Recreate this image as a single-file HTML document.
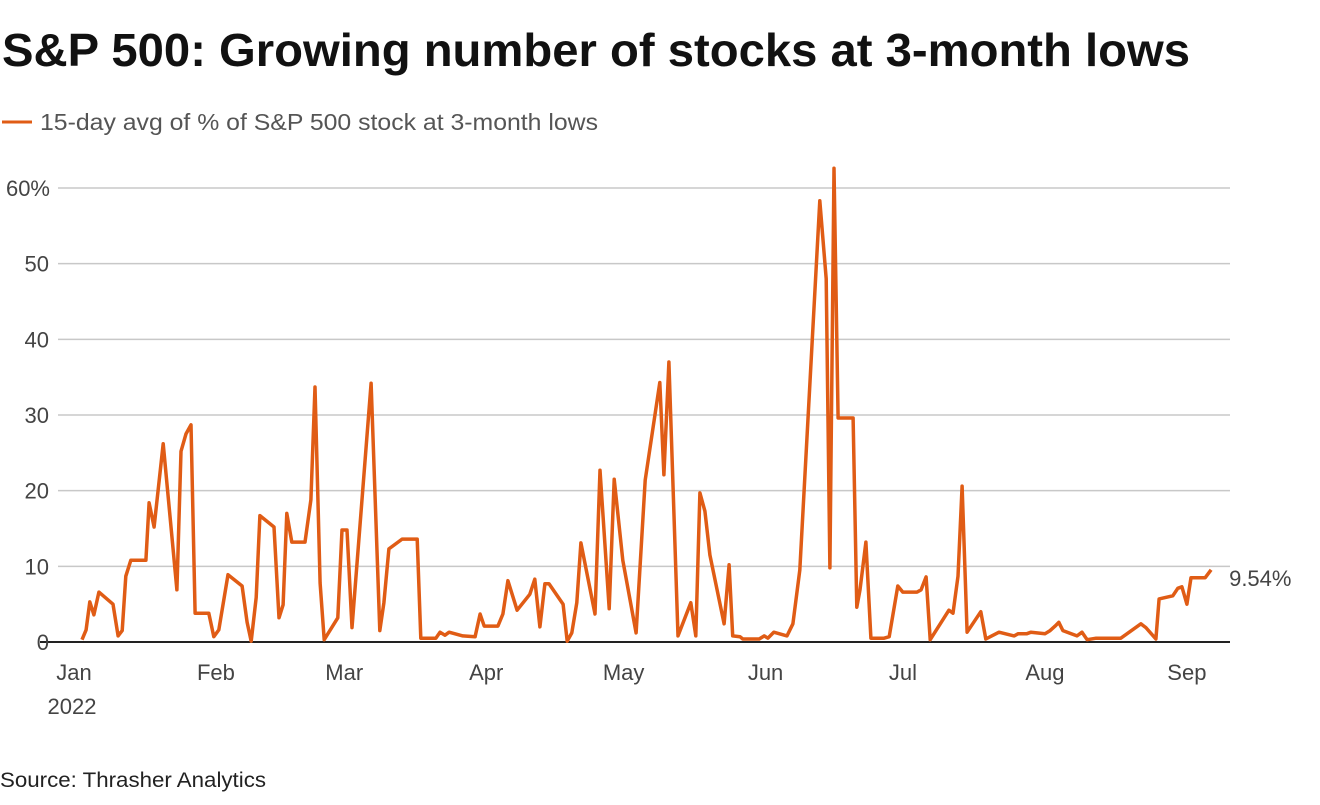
<!DOCTYPE html>
<html><head><meta charset="utf-8"><style>
body{margin:0;background:#fff;font-family:"Liberation Sans",sans-serif;}
svg text{font-family:"Liberation Sans",sans-serif;}
</style></head><body>
<svg width="1320" height="800">
<text x="2" y="66" font-size="46" font-weight="bold" fill="#111" textLength="1188" lengthAdjust="spacingAndGlyphs">S&amp;P 500: Growing number of stocks at 3-month lows</text>
<line x1="2" y1="122" x2="32" y2="122" stroke="#e05c15" stroke-width="3"/>
<text x="40" y="130" font-size="23" fill="#555" textLength="558" lengthAdjust="spacingAndGlyphs">15-day avg of % of S&amp;P 500 stock at 3-month lows</text>
<g id="grid"></g><g id="ylab"></g><g id="xlab"></g>
<path id="line" fill="none" stroke="#e05c15" stroke-width="3.5" stroke-linejoin="round"/>
<text id="endlab" font-size="22" fill="#444"></text>
<text x="0" y="787" font-size="21" fill="#222" textLength="266" lengthAdjust="spacingAndGlyphs">Source: Thrasher Analytics</text>
</svg>
<script>
const days=[2.2,3.1,3.9,4.8,5.9,9.0,10.1,11.0,11.8,12.9,16.2,16.9,18.0,20.0,23.0,23.9,25.0,26.1,27.0,30.0,31.1,32.2,34.2,37.3,38.4,39.3,40.4,41.2,44.3,45.4,46.3,47.1,48.2,51.1,52.4,53.3,54.4,55.3,58.3,59.2,60.3,61.4,65.6,67.5,68.4,69.5,72.4,75.7,76.5,79.8,80.7,81.8,82.7,85.7,88.4,89.5,90.4,93.4,94.5,95.6,97.6,100.4,101.5,102.6,103.7,104.6,107.7,108.6,109.6,110.7,111.6,114.7,115.8,117.8,118.9,120.8,123.7,125.7,128.9,129.8,130.9,132.9,135.7,136.8,137.7,138.8,139.9,143.0,144.1,144.9,146.5,147.1,150.7,151.8,152.6,153.9,156.8,158.1,159.6,164.0,165.4,166.2,167.1,168.0,171.3,172.1,172.8,174.1,175.2,178.1,179.2,181.1,182.2,185.3,186.2,187.3,188.2,192.3,193.2,194.3,195.2,196.3,199.3,200.4,203.3,206.6,207.5,209.4,210.3,213.4,214.5,215.6,216.4,217.3,220.4,221.5,222.6,224.6,230.0,234.4,235.5,237.7,238.4,241.4,242.5,243.4,244.5,245.4,248.5,249.8];
const values=[0.3,1.6,5.3,3.6,6.6,5.0,0.8,1.5,8.7,10.8,10.8,18.4,15.2,26.2,6.9,25.2,27.5,28.7,3.8,3.8,0.7,1.6,8.9,7.4,2.6,0.1,5.9,16.7,15.2,3.2,4.9,17.0,13.2,13.2,18.8,33.7,7.8,0.3,3.2,14.8,14.8,1.9,34.2,1.5,5.2,12.3,13.6,13.6,0.5,0.5,1.3,0.9,1.3,0.8,0.7,3.7,2.1,2.1,3.7,8.1,4.2,6.3,8.3,2.0,7.7,7.7,5.0,0.1,1.2,5.2,13.1,3.7,22.7,4.4,21.5,10.8,1.2,21.4,34.3,22.1,37.0,0.8,5.2,0.8,19.7,17.3,11.5,2.4,10.2,0.8,0.7,0.4,0.4,0.8,0.5,1.3,0.8,2.4,9.5,58.3,48.0,9.8,62.6,29.6,29.6,4.6,6.9,13.2,0.5,0.5,0.7,7.4,6.6,6.6,6.9,8.6,0.3,4.2,3.8,8.7,20.6,1.3,4.0,0.4,1.3,0.8,1.1,1.1,1.3,1.1,1.5,2.1,2.6,1.5,0.8,1.3,0.3,0.5,0.5,2.4,1.9,0.4,5.7,6.1,7.1,7.3,5.0,8.5,8.5,9.54];
const yTicks=[0,10,20,30,40,50,60];
const yTickLabels=["0","10","20","30","40","50","60%"];
const monthDays=[0,31,59,90,120,151,181,212,243];
const monthLabels=["Jan","Feb","Mar","Apr","May","Jun","Jul","Aug","Sep"];
const xs=d=>72+d*4.56, ys=v=>642-v*7.567;
const NS="http://www.w3.org/2000/svg";
const grid=document.getElementById('grid'),yl=document.getElementById('ylab'),xl=document.getElementById('xlab');
yTicks.forEach((t,i)=>{
  const l=document.createElementNS(NS,'line');
  l.setAttribute('x1',t===0?40:58);l.setAttribute('x2',1230);l.setAttribute('y1',ys(t));l.setAttribute('y2',ys(t));
  l.setAttribute('stroke',t===0?'#222':'#c8c8c8');l.setAttribute('stroke-width',t===0?2:1.5);
  
  
  grid.appendChild(l);
  const tx=document.createElementNS(NS,'text');
  tx.setAttribute('x',t===60?50:49);tx.setAttribute('y',ys(t)+8);tx.setAttribute('text-anchor','end');
  tx.setAttribute('font-size','22');tx.setAttribute('fill','#444');tx.textContent=yTickLabels[i];
  
  
  yl.appendChild(tx);
});
monthDays.forEach((d,i)=>{
  const tx=document.createElementNS(NS,'text');
  tx.setAttribute('x',xs(d)+2+i*0.6);tx.setAttribute('y',680);tx.setAttribute('text-anchor','middle');
  tx.setAttribute('font-size','22');tx.setAttribute('fill','#444');tx.textContent=monthLabels[i];
  
  
  xl.appendChild(tx);
});
const y2=document.createElementNS(NS,'text');
y2.setAttribute('x',72);y2.setAttribute('y',714);y2.setAttribute('text-anchor','middle');
y2.setAttribute('font-size','22');y2.setAttribute('fill','#444');y2.textContent='2022';


xl.appendChild(y2);
document.getElementById('line').setAttribute('d',days.map((d,i)=>(i?'L':'M')+xs(d).toFixed(1)+','+ys(values[i]).toFixed(1)).join(''));
const e=document.getElementById('endlab'),n=values.length-1;
e.setAttribute('x',xs(days[n])+18);e.setAttribute('y',ys(values[n])+16);e.textContent=values[n]+'%';
</script>
</body></html>
